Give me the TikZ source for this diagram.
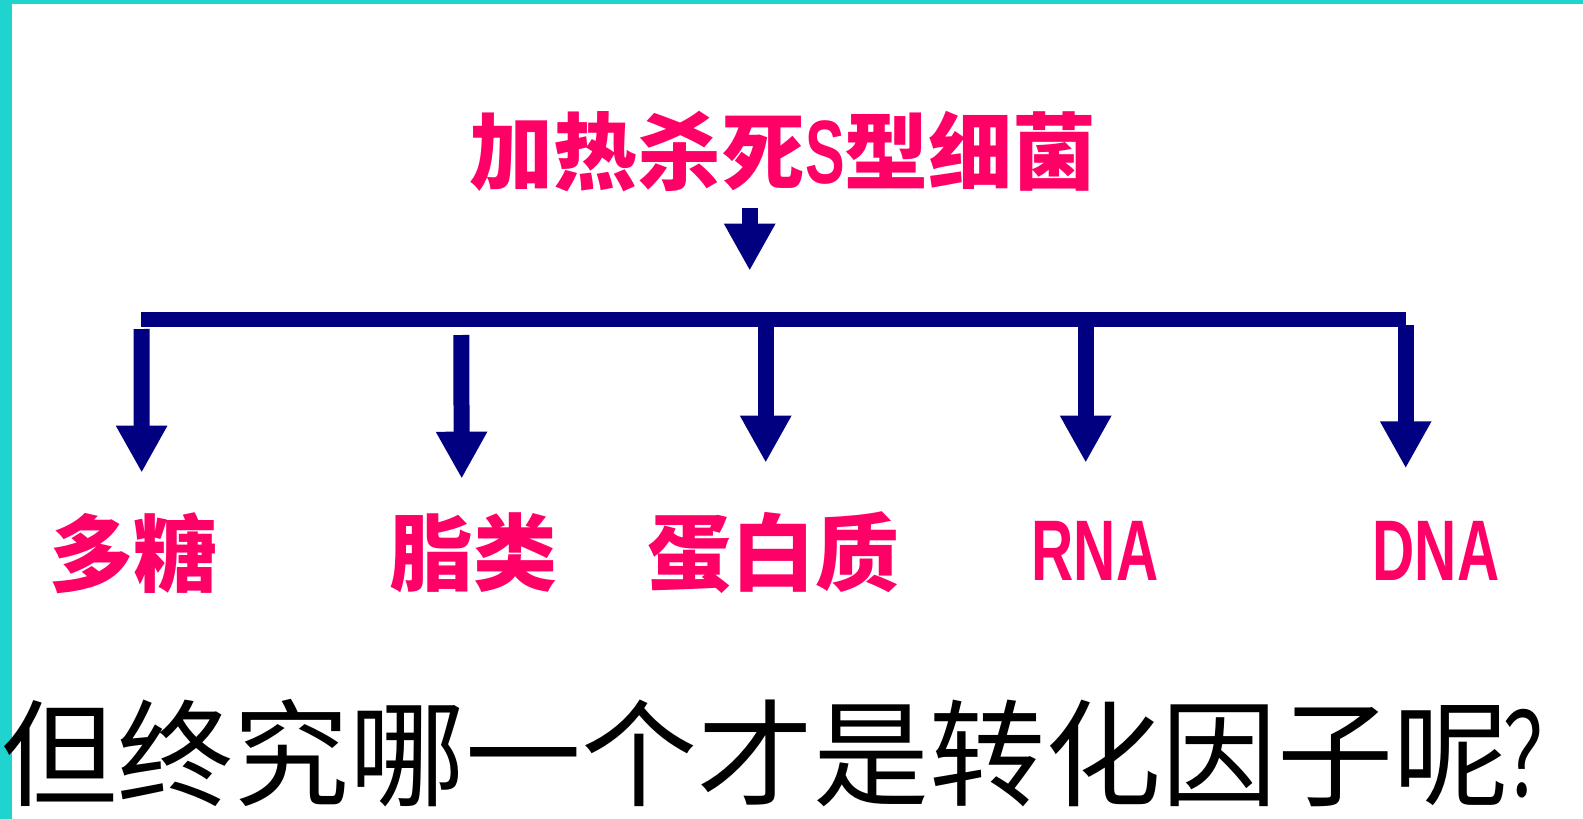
\documentclass[tikz,border=0pt]{standalone}
\usepackage{fontspec}
\usetikzlibrary{arrows.meta}
\newfontfamily\cjk{Noto Sans CJK SC}
\newfontfamily\arl{Liberation Sans}
\definecolor{teal1}{HTML}{1FD3CF}
\definecolor{pinkt}{HTML}{FF0066}
\definecolor{navyarr}{HTML}{000080}
\tikzset{
  pinklabel/.style={inner sep=0pt, text=pinkt, font=\cjk\bfseries\fontsize{84pt}{90pt}\selectfont},
  latlabel/.style={inner sep=0pt, text=pinkt, font=\arl\bfseries\fontsize{86pt}{90pt}\selectfont},
  bigarrow/.style={draw=navyarr, line width=16pt, -{Triangle[width=48pt,length=47pt]}, fill=navyarr},
  barline/.style={draw=navyarr, line width=15pt},
  question/.style={inner sep=0pt, text=black, font=\cjk\fontsize{116pt}{120pt}\selectfont}
}
\begin{document}
\begin{tikzpicture}[x=1pt,y=-1pt]
\useasboundingbox (0,0) rectangle (1583,819);
\fill[white] (0,0) rectangle (1583,819);
\fill[teal1] (0,0) rectangle (12,819);
\fill[teal1] (0,0) rectangle (1583,4);

\node[pinklabel] (title) at (783,152) {加热杀死{\arl\bfseries\fontsize{90pt}{90pt}\selectfont\scalebox{0.66}[1]{S}}型细菌};
\coordinate (t0) at (749.7,207.7);
\coordinate (t1) at (749.7,270.7);
\draw[bigarrow] (t0) -- (t1);

\coordinate (bl) at (141,319.5);
\coordinate (br) at (1405.7,319.5);
\draw[barline] (bl) -- (br);

\node[pinklabel] (a) at (133,553) {多糖};
\node[pinklabel] (b) at (473,553) {脂类};
\node[pinklabel] (c) at (773,553) {蛋白质};
\node[latlabel] (d) at (1095,551) {\scalebox{0.68}[1]{RNA}};
\node[latlabel] (e) at (1436,551) {\scalebox{0.68}[1]{DNA}};

\coordinate (s1) at (141.5,329);
\coordinate (e1) at (141.7,472.7);
\coordinate (s2) at (461.3,335);
\coordinate (e2) at (461.7,478.7);
\coordinate (s3) at (765.7,319.5);
\coordinate (e3) at (765.7,462.7);
\coordinate (s4) at (1085.7,319.5);
\coordinate (e4) at (1085.7,462.7);
\coordinate (s5) at (1405.7,325);
\coordinate (e5) at (1405.7,468.3);
\draw[bigarrow] (s1) -- (e1);
\draw[bigarrow] (s2) -- (e2);
\draw[bigarrow] (s3) -- (e3);
\draw[bigarrow] (s4) -- (e4);
\draw[bigarrow] (s5) -- (e5);

\node[question, anchor=west] (q) at (1,753) {但终究哪一个才是转化因子呢\kern-6pt\scalebox{0.68}[1]{？}};
\end{tikzpicture}
\end{document}
